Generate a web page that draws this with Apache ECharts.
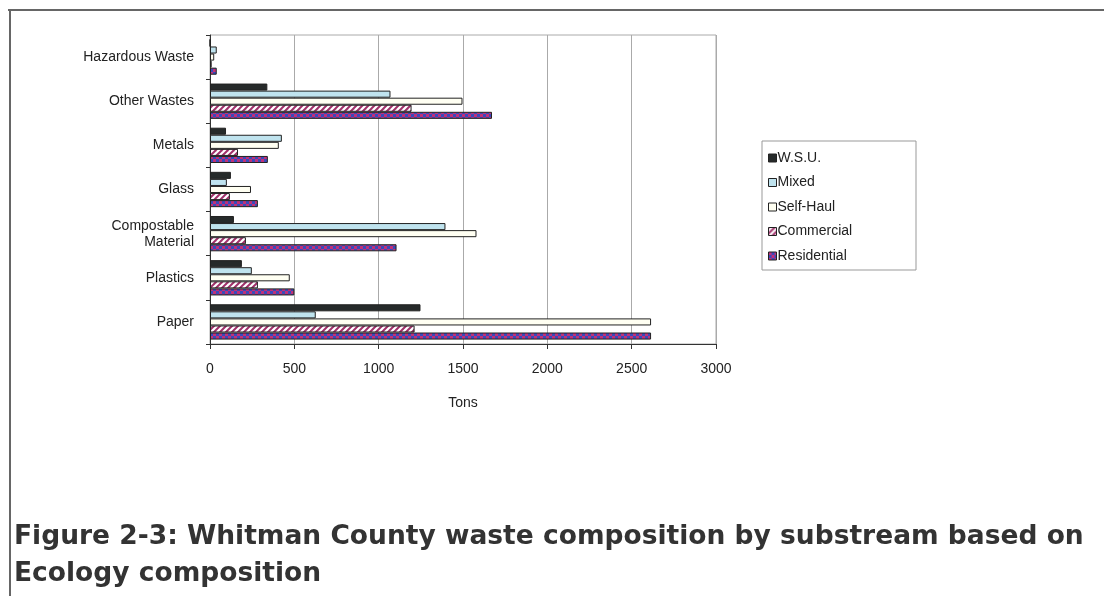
<!DOCTYPE html>
<html><head><meta charset="utf-8">
<script src="https://cdn.jsdelivr.net/npm/echarts@6/dist/echarts.min.js"></script>
<style>html,body{margin:0;padding:0;background:#fff}#c{width:1104px;height:596px}</style>
</head><body><div id="c"></div>
<script>
const categories = ['Paper','Plastics','Compostable\nMaterial','Glass','Metals','Other Wastes','Hazardous Waste'];
const wsu         = [1248, 189, 142, 124, 95, 340, 0];
const mixed       = [627, 248, 1396, 100, 426, 1070, 40];
const selfHaul    = [2615, 473, 1580, 243, 408, 1497, 25];
const commercial  = [1213, 284, 213, 118, 166, 1195, 10];
const residential = [2615, 500, 1106, 284, 343, 1672, 40];
const xTicks = [0, 500, 1000, 1500, 2000, 2500, 3000];

function stripePattern(){
  const c = document.createElement('canvas'); c.width = 6; c.height = 6;
  const g = c.getContext('2d');
  g.fillStyle = '#ffffff'; g.fillRect(0,0,6,6);
  g.strokeStyle = '#a0306a'; g.lineWidth = 2;
  g.beginPath(); g.moveTo(-1,7); g.lineTo(7,-1); g.stroke();
  g.beginPath(); g.moveTo(-4,4); g.lineTo(4,-4); g.stroke();
  g.beginPath(); g.moveTo(2,10); g.lineTo(10,2); g.stroke();
  return c;
}
function checkPattern(){
  const c = document.createElement('canvas'); c.width = 6; c.height = 6;
  const g = c.getContext('2d');
  g.fillStyle = '#3a4aba'; g.fillRect(0,0,6,6);
  g.fillStyle = '#c0307a'; g.fillRect(0,0,3,3); g.fillRect(3,3,3,3);
  return c;
}

const chart = echarts.init(document.getElementById('c'), null, {renderer:'canvas'});
const font = 'Liberation Sans, Arial, sans-serif';
const border = {borderColor:'#222', borderWidth:1};
function s(name, data, color){
  return {name, type:'bar', data, barGap:'0%', barCategoryGap:'20%',
    itemStyle:Object.assign({color}, border), animation:false};
}
chart.setOption({
  animation:false,
  grid:{left:210, top:35, width:506, height:309, show:true, borderColor:'#aaa', borderWidth:1},
  xAxis:{type:'value', min:0, max:3000, interval:500,
    axisLine:{show:true, lineStyle:{color:'#333'}}, axisTick:{show:true, lineStyle:{color:'#333'}},
    splitLine:{show:true, lineStyle:{color:'#aaa'}},
    axisLabel:{color:'#222', fontSize:14, fontFamily:font, margin:18,
      formatter:v => xTicks.includes(v) ? String(v) : ''},
    name:'Tons', nameLocation:'middle', nameGap:52,
    nameTextStyle:{color:'#222', fontSize:14, fontFamily:font}},
  yAxis:{type:'category', data:categories,
    axisLine:{show:true, lineStyle:{color:'#333'}}, axisTick:{show:true, length:4, lineStyle:{color:'#333'}},
    axisLabel:{color:'#222', fontSize:14, fontFamily:font, margin:16, lineHeight:16}},
  legend:{orient:'vertical', left:768, top:151, padding:0, itemGap:10.5,
    itemWidth:8, itemHeight:8, icon:'rect', itemStyle:{borderColor:'#222', borderWidth:1},
    textStyle:{color:'#222', fontSize:14, fontFamily:font, padding:[0,0,0,-4]},
    data:['W.S.U.','Mixed','Self-Haul','Commercial','Residential']},
  series:[
    s('W.S.U.', wsu, '#262a2a'),
    s('Mixed', mixed, '#bfe3ee'),
    s('Self-Haul', selfHaul, '#fffff2'),
    s('Commercial', commercial, {image:stripePattern(), repeat:'repeat'}),
    s('Residential', residential, {image:checkPattern(), repeat:'repeat'})
  ],
  graphic:[
    {type:'line', shape:{x1:8,y1:10,x2:1104,y2:10}, style:{stroke:'#666', lineWidth:2}},
    {type:'line', shape:{x1:10,y1:10,x2:10,y2:596}, style:{stroke:'#666', lineWidth:2}},
    {type:'rect', shape:{x:762,y:141,width:154,height:129}, style:{fill:null, stroke:'#999', lineWidth:1}},
    {type:'text', left:14, top:519, style:{text:'Figure 2-3: Whitman County waste composition by substream based on\nEcology composition',
      fill:'#333', font:'bold 26.5px "DejaVu Sans", sans-serif', lineHeight:37}}
  ]
});
</script></body></html>
